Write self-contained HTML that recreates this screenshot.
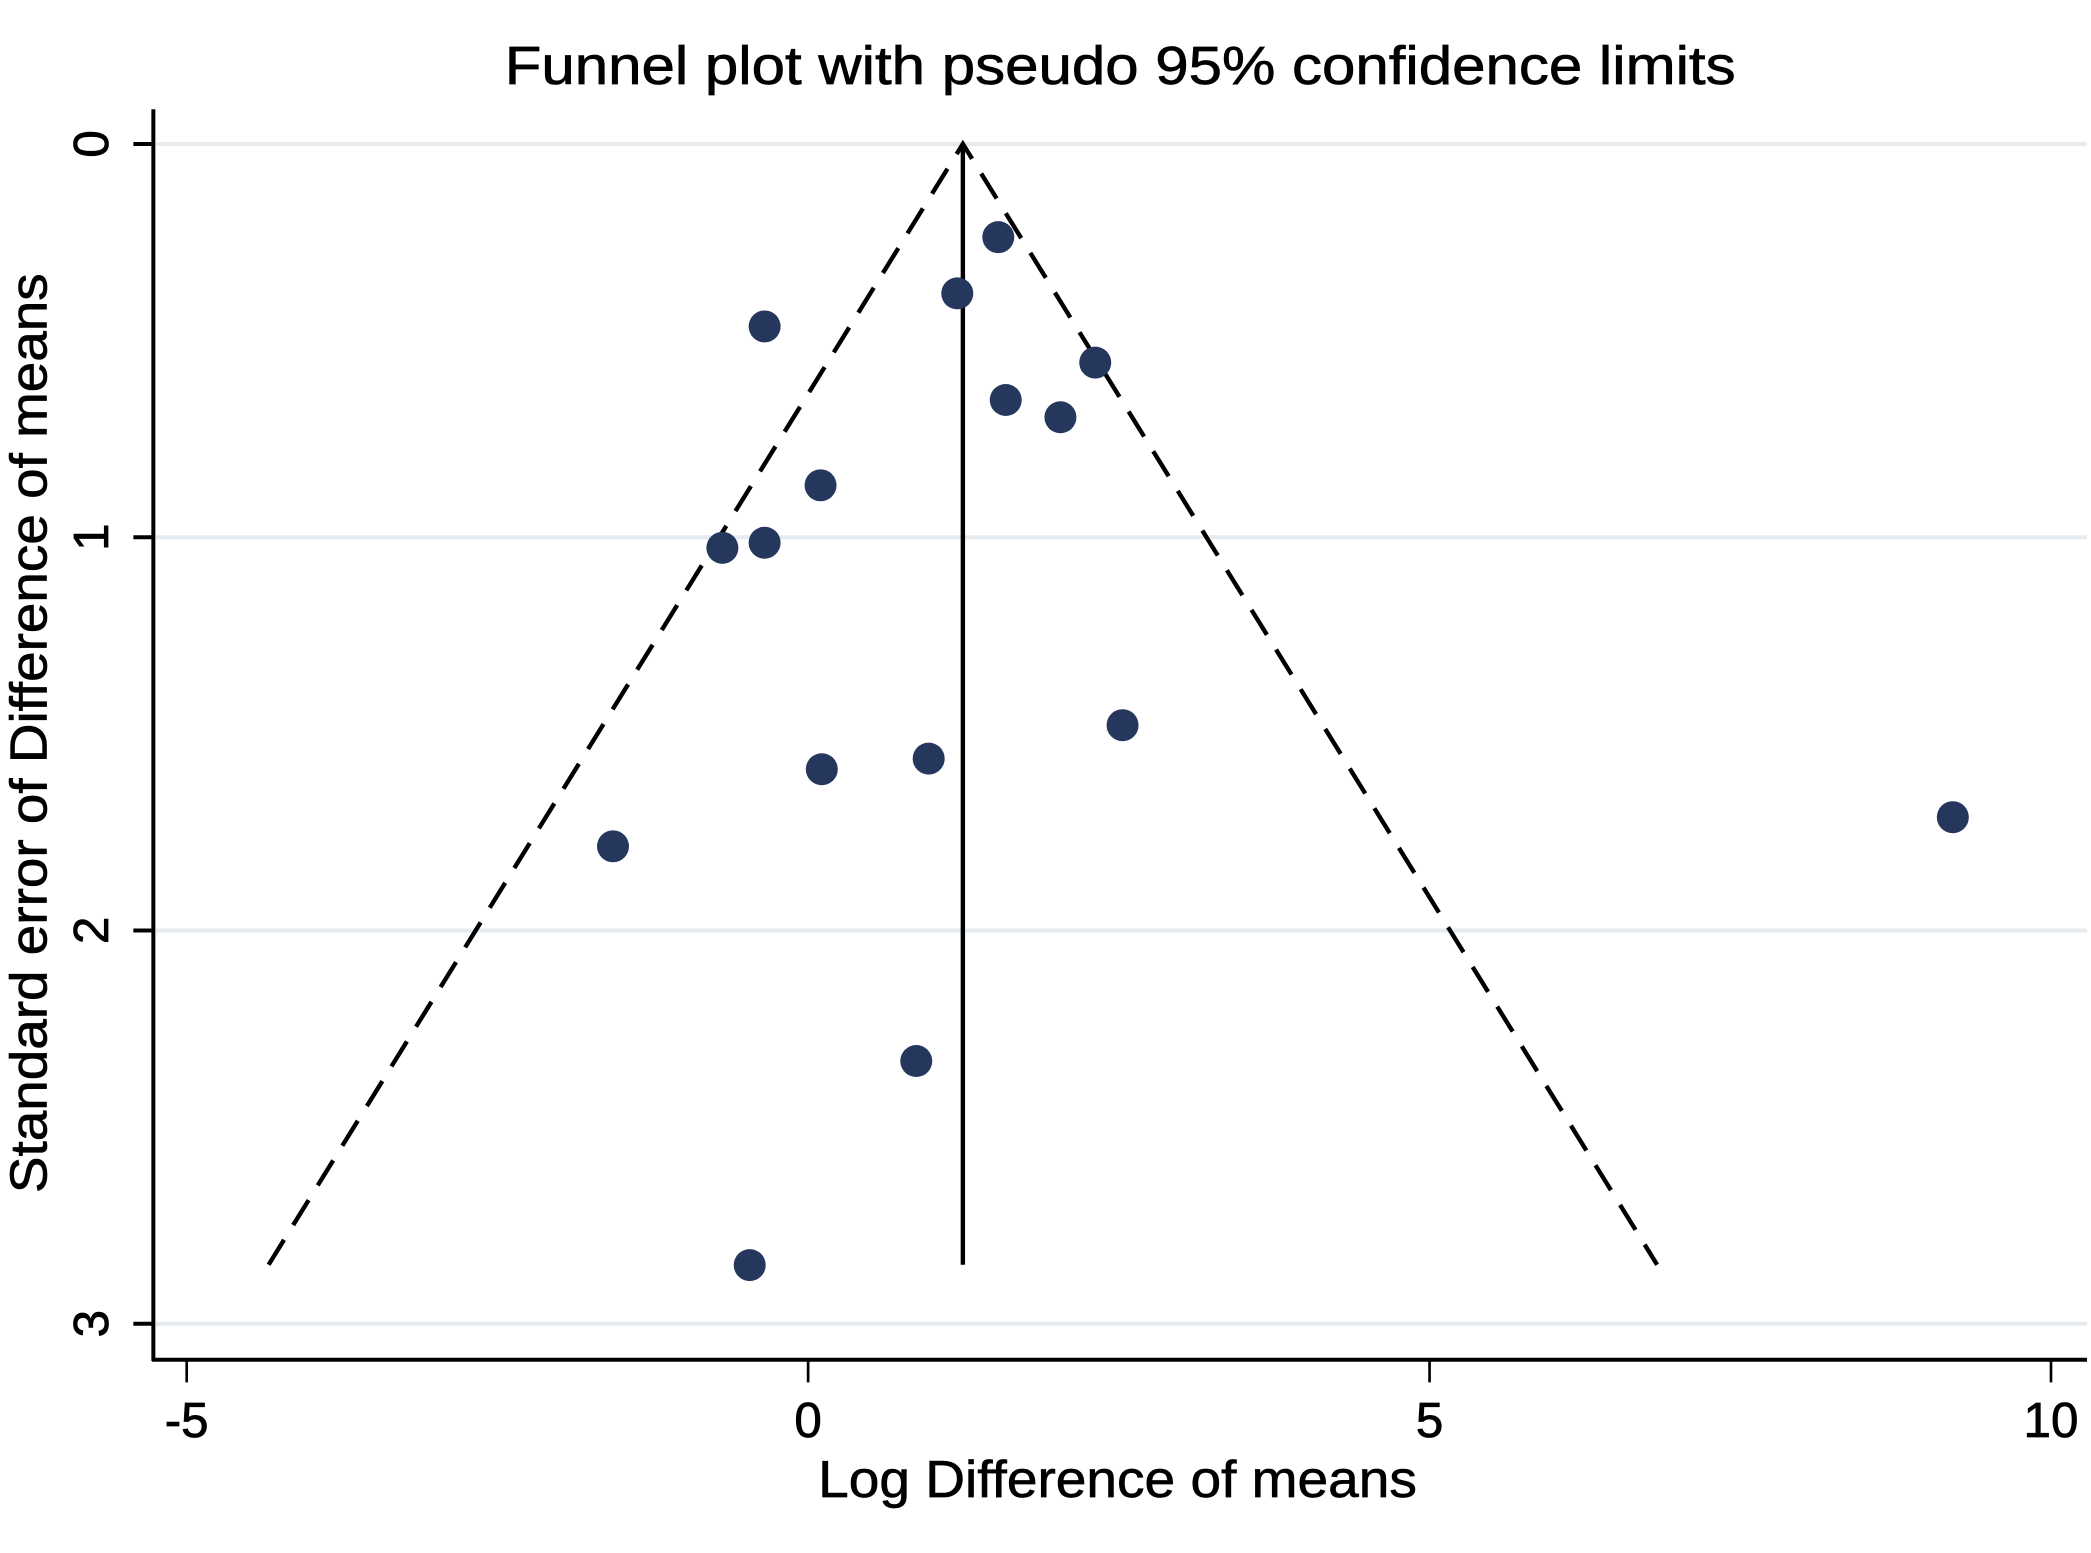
<!DOCTYPE html>
<html><head><meta charset="utf-8"><style>
html,body{margin:0;padding:0;background:#fff;}
svg{display:block;font-family:"Liberation Sans",sans-serif;}
</style></head><body>
<svg id="chart" width="2091" height="1553" viewBox="0 0 1568 1165" preserveAspectRatio="none" xmlns="http://www.w3.org/2000/svg"></svg>
<script>
const xTicks = [-5, 0, 5, 10];
const yTicks = [0, 1, 2, 3];
const effects = [1.53, 1.20, -0.35, 2.31, 1.59, 2.03, 0.10, -0.69, -0.35, 2.53, 0.97, 0.11, -1.57, 9.21, 0.87, -0.47];
const stdErrors = [0.237, 0.38, 0.464, 0.556, 0.651, 0.695, 0.868, 1.027, 1.014, 1.478, 1.563, 1.590, 1.786, 1.712, 2.332, 2.851];
const pooledEffect = [1.245];
const maxSE = [2.85];

const NS = 'http://www.w3.org/2000/svg';
const svg = document.getElementById('chart');
const X = v => 606 + (v - 0) * 93.2;
const Y = v => 108 + v * 295;
function mk(tag, attrs, parent) {
  const e = document.createElementNS(NS, tag);
  for (const k in attrs) e.setAttribute(k, attrs[k]);
  (parent || svg).appendChild(e);
  return e;
}
yTicks.forEach(t => {
  const g = mk('line', {x1: 117, x2: 1565, y1: Y(t), y2: Y(t), stroke: '#e6ebf0', 'stroke-width': 3});
  
  
});
const ya = mk('line', {x1: 115, x2: 115, y1: 82, y2: 1021, stroke: '#000', 'stroke-width': 3});


const xa = mk('line', {x1: 114, x2: 1565, y1: 1020, y2: 1020, stroke: '#000', 'stroke-width': 3});


yTicks.forEach(t => {
  const tk = mk('line', {x1: 100, x2: 115, y1: Y(t), y2: Y(t), stroke: '#000', 'stroke-width': 3});
  
  
  const lb = mk('text', {x: 0, y: 0, 'font-size': 37, 'text-anchor': 'middle', transform: `translate(81,${Y(t)}) rotate(-90)`, stroke: '#000', 'stroke-width': 0.6});
  lb.textContent = t;
  
  
});
xTicks.forEach(t => {
  const tk = mk('line', {x1: X(t), x2: X(t), y1: 1020, y2: 1037, stroke: '#000', 'stroke-width': 2});
  
  
  const lb = mk('text', {x: X(t), y: 1078, 'font-size': 37, 'text-anchor': 'middle', stroke: '#000', 'stroke-width': 0.6});
  lb.textContent = t;
  
  
});
const p = pooledEffect[0], s = maxSE[0];
const fl = mk('polyline', {points: `${X(p - 1.96 * s)},${Y(s)} ${X(p)},${Y(0)} ${X(p + 1.96 * s)},${Y(s)}`, fill: 'none', stroke: '#000', 'stroke-width': 3.3, 'stroke-dasharray': '22 13'});


const vl = mk('line', {x1: X(p), x2: X(p), y1: Y(0), y2: Y(s), stroke: '#000', 'stroke-width': 3.3});


effects.forEach((e, i) => {
  const c = mk('circle', {cx: X(e), cy: Y(stdErrors[i]), r: 12, fill: '#26375e'});
  
  
});
const tt = mk('text', {x: 840, y: 63, 'font-size': 40, 'text-anchor': 'middle', textLength: 923, lengthAdjust: 'spacingAndGlyphs', stroke: '#000', 'stroke-width': 0.5});
tt.textContent = 'Funnel plot with pseudo 95% confidence limits';


const xt = mk('text', {x: 838, y: 1123, 'font-size': 39, 'text-anchor': 'middle', textLength: 449, lengthAdjust: 'spacingAndGlyphs', stroke: '#000', 'stroke-width': 0.5});
xt.textContent = 'Log Difference of means';


const yt = mk('text', {x: 0, y: 0, 'font-size': 39, 'text-anchor': 'middle', textLength: 690, lengthAdjust: 'spacingAndGlyphs', transform: 'translate(35,550) rotate(-90)', stroke: '#000', 'stroke-width': 0.5});
yt.textContent = 'Standard error of Difference of means';


</script>
</body></html>
